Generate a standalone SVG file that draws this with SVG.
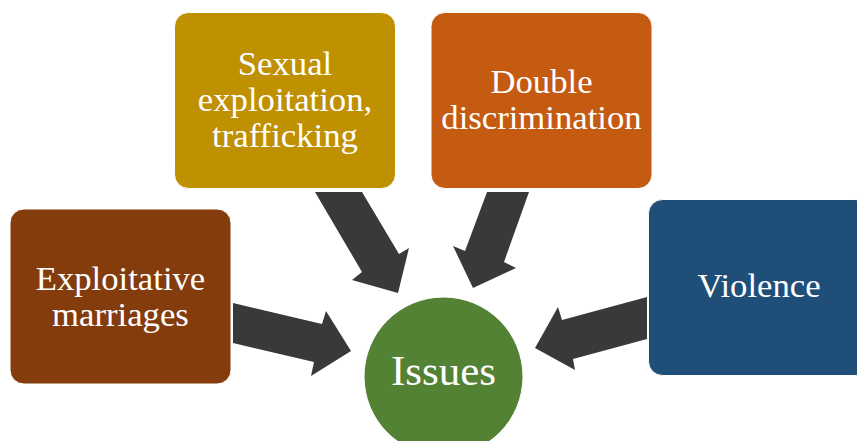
<svg xmlns="http://www.w3.org/2000/svg" width="857" height="441" viewBox="0 0 857 441">
  <style>
    .box { stroke: #ffffff; stroke-width: 1; }
    .lbl { font-family: "Liberation Serif", "Times New Roman", serif; font-size: 34.7px; fill: #ffffff; text-anchor: middle; }
    .arrow { fill: #3A3838; }
  </style>
  <rect width="857" height="441" fill="#ffffff"/>

  <!-- block arrows pointing into the hub -->
  <g id="connectors">
    <polygon class="arrow" points="233,303 322,324 326,311 351,351 311,376 314,362 233,343"/>
    <polygon class="arrow" points="315,192 362,192 399,254 409,248 398,293 352,280 362,272"/>
    <polygon class="arrow" points="487,192 529,192 504,262 516,268 473,288 453,246 465,251"/>
    <polygon class="arrow" points="647,297 647,339 573,359 575,370 535,348 558,307 562,320"/>
  </g>

  <g id="exploitative-marriages">
    <rect class="box" x="10" y="209" width="221" height="175" rx="14" fill="#843C0C"/>
    <text class="lbl" x="120.5" y="290">Exploitative</text>
    <text class="lbl" x="120.5" y="326">marriages</text>
  </g>

  <g id="sexual-exploitation">
    <rect class="box" x="174.5" y="12.5" width="221" height="176" rx="14" fill="#BF9000"/>
    <text class="lbl" x="285" y="75">Sexual</text>
    <text class="lbl" x="285" y="111">exploitation,</text>
    <text class="lbl" x="285" y="147">trafficking</text>
  </g>

  <g id="double-discrimination">
    <rect class="box" x="431" y="12.5" width="221" height="176" rx="14" fill="#C55A11"/>
    <text class="lbl" x="541.5" y="93">Double</text>
    <text class="lbl" x="541.5" y="128.5">discrimination</text>
  </g>

  <g id="violence">
    <rect class="box" x="648.5" y="199.5" width="221" height="176" rx="14" fill="#1F4E79"/>
    <text class="lbl" x="759" y="297">Violence</text>
  </g>

  <g id="issues">
    <circle cx="443.5" cy="376.5" r="79.5" fill="#548235" stroke="#ffffff" stroke-width="1"/>
    <text class="lbl" x="443.5" y="385" style="font-size:43px">Issues</text>
  </g>
</svg>
